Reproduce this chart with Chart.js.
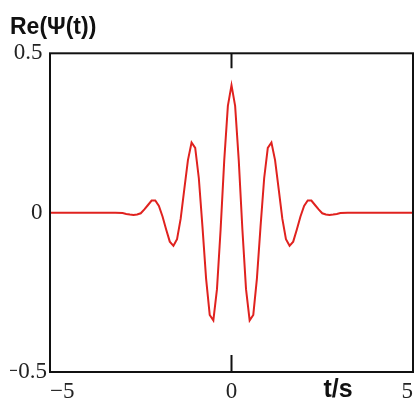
<!DOCTYPE html>
<html>
<head>
<meta charset="utf-8">
<script src="https://cdn.jsdelivr.net/npm/chart.js@4.4.1/dist/chart.umd.min.js"></script>
<style>
  html, body { margin: 0; padding: 0; background: #fff; }
  #wrap { width: 416px; height: 399px; }
</style>
</head>
<body>
<div id="wrap"><canvas id="waveChart"></canvas></div>
<script>
'use strict';
// sample times (s) and the real part of the wavelet
let tValues=[
  -5, -4, -3.5, -3.2,
  -3.0, -2.9, -2.8, -2.7, -2.6, -2.5, -2.4, -2.3, -2.2, -2.1,
  -2.0, -1.9, -1.8, -1.7, -1.6, -1.5, -1.4, -1.3, -1.2, -1.1,
  -1.0, -0.9, -0.8, -0.7, -0.6, -0.5, -0.4, -0.3, -0.2, -0.1,
  0,
  0.1, 0.2, 0.3, 0.4, 0.5, 0.6, 0.7, 0.8, 0.9, 1.0,
  1.1, 1.2, 1.3, 1.4, 1.5, 1.6, 1.7, 1.8, 1.9, 2.0,
  2.1, 2.2, 2.3, 2.4, 2.5, 2.6, 2.7, 2.8, 2.9, 3.0,
  3.2, 3.5, 4, 5
];
let psiRe=[
  0, 0, 0, 0,
  -0.001, -0.004, -0.006, -0.007, -0.006, -0.002, 0.010, 0.024, 0.038, 0.038,
  0.021, -0.012, -0.053, -0.091, -0.104, -0.083, -0.019, 0.074, 0.165, 0.220,
  0.203, 0.108, -0.044, -0.207, -0.321, -0.338, -0.240, -0.053, 0.164, 0.335,
  0.400,
  0.335, 0.164, -0.053, -0.240, -0.338, -0.321, -0.207, -0.044, 0.108, 0.203,
  0.220, 0.165, 0.074, -0.019, -0.083, -0.104, -0.091, -0.053, -0.012, 0.021,
  0.038, 0.038, 0.024, 0.010, -0.002, -0.006, -0.007, -0.006, -0.004, -0.001,
  0, 0, 0, 0
];

let xTicks=[-5, 0, 5];
let xTickLabels=['\u22125', '0', '5'];
let yTicks=[-0.5, 0, 0.5];
// thin space after the positive labels so the negative one hangs further right
let yTickLabels=['\u22120.5', '0\u2009', '0.5\u2009'];

let points=[];
for(let i=0; i<tValues.length; i++){
  points.push({x: tValues[i], y: psiRe[i]});
}

// box around the plot, centre tick marks and the t/s unit
let framePlugin={
  id: 'frame',
  afterDatasetsDraw(chart){
    let ctx=chart.ctx;
    let area=chart.chartArea;
    let x0=chart.scales.x.getPixelForValue(0);
    ctx.save();
    ctx.strokeStyle='#111';
    ctx.lineWidth=2;
    ctx.strokeRect(area.left, area.top, area.right-area.left, area.bottom-area.top);
    ctx.beginPath();
    ctx.moveTo(x0, area.top);
    ctx.lineTo(x0, area.top+15);
    ctx.moveTo(x0, area.bottom);
    ctx.lineTo(x0, area.bottom-17);
    ctx.stroke();
    ctx.restore();
  },
  afterDraw(chart){
    let ctx=chart.ctx;
    let area=chart.chartArea;
    ctx.save();
    ctx.fillStyle='#111';
    ctx.font='bold 25px "Liberation Sans", Arial, sans-serif';
    ctx.textAlign='center';
    ctx.textBaseline='alphabetic';
    ctx.fillText('t/s', area.right-75, area.bottom+25);
    ctx.restore();
  }
};

let ctx=document.getElementById('waveChart').getContext('2d');
let waveChart=new Chart(ctx, {
  type: 'line',
  data: {
    datasets: [{
      label: 'Re(\u03A8(t))',
      data: points,
      borderColor: '#e0221f',
      borderWidth: 2,
      pointRadius: 0,
      tension: 0,
      fill: false
    }]
  },
  options: {
    responsive: true,
    maintainAspectRatio: false,
    animation: false,
    layout: {
      padding: {left: 10, right: 3, top: 0, bottom: 0}
    },
    plugins: {
      legend: {display: false},
      tooltip: {enabled: false},
      title: {
        display: true,
        text: 'Re(\u03A8(t))',
        align: 'start',
        color: '#111',
        font: {family: '"Liberation Sans", Arial, sans-serif', size: 23, weight: 'bold', lineHeight: 1.1},
        padding: {top: 15, bottom: 13}
      }
    },
    scales: {
      x: {
        type: 'linear',
        min: -5,
        max: 5,
        afterBuildTicks: function(axis){
          axis.ticks=xTicks.map(function(v){ return {value: v}; });
        },
        afterFit: function(scale){
          scale.height=27;
          scale.paddingLeft=0;
          scale.paddingRight=0;
        },
        ticks: {
          autoSkip: false,
          maxRotation: 0,
          align: 'inner',
          padding: 8,
          color: '#222',
          font: {family: '"Liberation Serif", "Times New Roman", serif', size: 23, lineHeight: 1},
          callback: function(value){
            return xTickLabels[xTicks.indexOf(value)];
          }
        },
        grid: {display: false, drawTicks: false},
        border: {display: false}
      },
      y: {
        min: -0.5,
        max: 0.5,
        afterBuildTicks: function(axis){
          axis.ticks=yTicks.map(function(v){ return {value: v}; });
        },
        afterFit: function(scale){
          scale.width=40;
        },
        ticks: {
          autoSkip: false,
          padding: 3,
          color: '#222',
          font: {family: '"Liberation Serif", "Times New Roman", serif', size: 23},
          callback: function(value){
            return yTickLabels[yTicks.indexOf(value)];
          }
        },
        grid: {display: false, drawTicks: false},
        border: {display: false}
      }
    }
  },
  plugins: [framePlugin]
});
</script>
</body>
</html>
